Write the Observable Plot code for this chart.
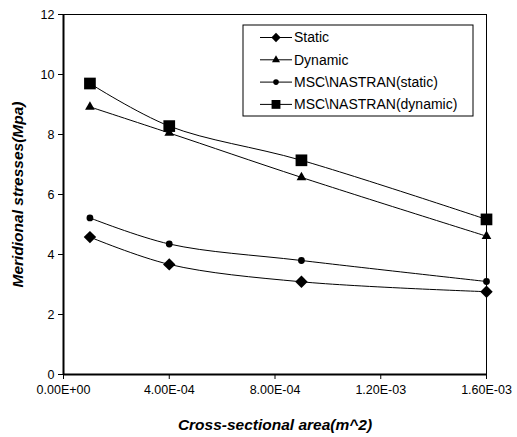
<!DOCTYPE html>
<html>
<head>
<meta charset="utf-8">
<script src="https://cdn.jsdelivr.net/npm/d3@7"></script>
<script src="https://cdn.jsdelivr.net/npm/@observablehq/plot@0.6"></script>
<style>
  html, body { margin: 0; padding: 0; background: #fff; }
  #chart { position: relative; width: 517px; height: 437px; }
  #chart svg { font-family: "Liberation Sans", Arial, sans-serif; }
  g[aria-label="x-axis label"] text, g[aria-label="y-axis label"] text {
    font-weight: bold; font-style: italic; font-size: 15.5px;
  }
</style>
</head>
<body>
<div id="chart"></div>
<script>
// Data
const areas = [1e-4, 4e-4, 9e-4, 1.6e-3];
const staticVals = [4.58, 3.67, 3.09, 2.76];
const dynamicVals = [8.92, 8.05, 6.57, 4.61];
const nastranStaticVals = [5.22, 4.35, 3.80, 3.10];
const nastranDynamicVals = [9.70, 8.28, 7.14, 5.17];

const seriesNames = ["Static", "Dynamic", "MSC\\NASTRAN(static)", "MSC\\NASTRAN(dynamic)"];
const seriesSymbols = ["diamond2", "triangle", "circle", "square"];
const seriesR = [5.6, 3.6, 3.4, 6.6];
const xTicks = [0, 4e-4, 8e-4, 1.2e-3, 1.6e-3];
const yTicks = [0, 2, 4, 6, 8, 10, 12];

const allVals = [staticVals, dynamicVals, nastranStaticVals, nastranDynamicVals];
const rows = [];
allVals.forEach((vals, si) => vals.forEach((v, i) => rows.push({series: seriesNames[si], si, x: areas[i], y: v})));

function fmtExp(v) {
  const s = v.toExponential(2).toUpperCase(); // e.g. 4.00E-4
  const m = s.match(/^(-?[\d.]+)E([+-])(\d+)$/);
  return m[1] + "E" + m[2] + m[3].padStart(2, "0");
}

const marks = [
  Plot.frame({stroke: "black", strokeWidth: 1}),
  Plot.axisY({ticks: yTicks, tickSize: 5, tickPadding: 4, fontSize: 12.5,
    label: "Meridional stresses(Mpa)", labelAnchor: "center", labelOffset: 52, labelArrow: "none"}),
  Plot.axisX({ticks: xTicks, tickFormat: fmtExp, tickSize: 5, tickPadding: 6, fontSize: 12.5,
    label: "Cross-sectional area(m^2)", labelAnchor: "center", labelOffset: 55, labelArrow: "none"}),
  Plot.ruleX([0], {stroke: "black", strokeWidth: 2}),
  Plot.ruleY([0], {stroke: "black", strokeWidth: 2})
];
seriesNames.forEach((name, si) => {
  const d = rows.filter(r => r.si === si);
  marks.push(Plot.line(d, {x: "x", y: "y", curve: "catmull-rom", stroke: "black", strokeWidth: 1}));
  marks.push(Plot.dot(d, {x: "x", y: "y", symbol: () => seriesSymbols[si], r: seriesR[si], fill: "black", stroke: "none"}));
});

const chart = Plot.plot({
  width: 517,
  height: 437,
  marginLeft: 63,
  marginRight: 31,
  marginTop: 14,
  marginBottom: 63,
  x: {domain: [0, 1.6e-3]},
  y: {domain: [0, 12]},
  style: {fontFamily: "Liberation Sans, Arial, sans-serif", fontSize: "12.5px", color: "black", background: "white"},
  marks
});
document.getElementById("chart").appendChild(chart);

// Legend (drawn in the SVG, Excel-style box at top right)
const svg = d3.select(chart);
const lg = svg.append("g").attr("transform", "translate(243,25)");
lg.append("rect").attr("width", 230).attr("height", 91).attr("fill", "white").attr("stroke", "black").attr("stroke-width", 1);
const symMap = {diamond2: d3.symbolDiamond2, triangle: d3.symbolTriangle, circle: d3.symbolCircle, square: d3.symbolSquare};
const legR = [4.2, 3.0, 2.8, 5.0];
seriesNames.forEach((name, i) => {
  const y = 12.5 + i * 22.3;
  const g = lg.append("g").attr("transform", `translate(0,${y})`);
  g.append("line").attr("x1", 17).attr("x2", 49).attr("stroke", "black").attr("stroke-width", 1);
  g.append("path").attr("transform", "translate(33,0)")
    .attr("d", d3.symbol(symMap[seriesSymbols[i]], Math.PI * legR[i] * legR[i])()).attr("fill", "black");
  g.append("text").attr("x", 51).attr("dy", "0.35em").attr("font-size", 14)
    .attr("text-anchor", "start")
    .attr("font-family", "Liberation Sans, Arial, sans-serif").attr("fill", "black").text(name);
});
</script>
</body>
</html>
